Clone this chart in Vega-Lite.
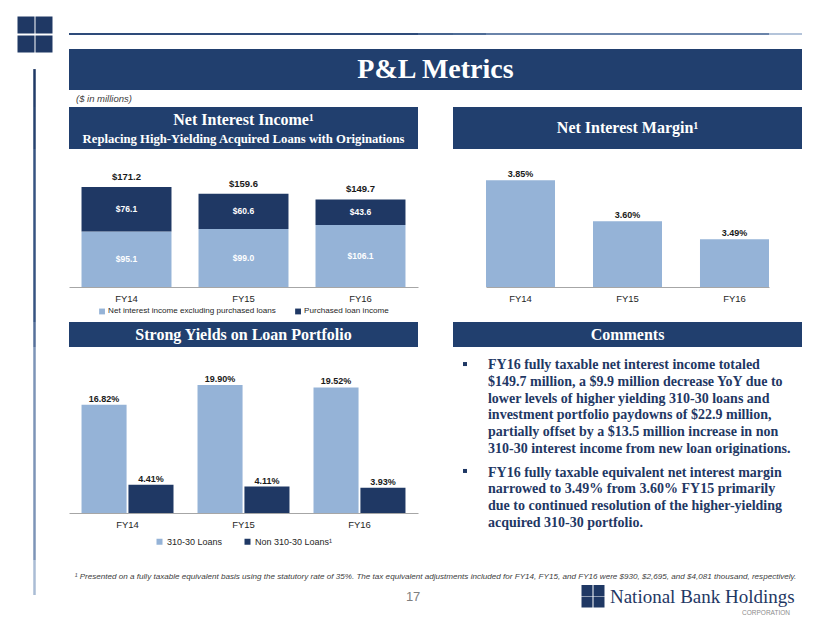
{
  "$schema": "https://vega.github.io/schema/vega-lite/v6.json",
  "padding": 0,
  "spacing": 0,
  "columns": 7,
  "align": "each",
  "bounds": "flush",
  "background": "white",
  "config": {
    "view": {"stroke": null},
    "axis": {"grid": false},
    "legend": {"layout": {"bottom": {"anchor": "middle"}}}
  },
  "resolve": {"scale": {"color": "independent"}, "legend": {"color": "independent"}},
  "datasets": {
    "one": [{}],
    "logo": [{"c": 0, "r": 0}, {"c": 1, "r": 0}, {"c": 0, "r": 1}, {"c": 1, "r": 1}],
    "nii": [
      {"year": "FY14", "component": "Net interest income excluding purchased loans", "value": 95.1},
      {"year": "FY14", "component": "Purchased loan income", "value": 76.1},
      {"year": "FY15", "component": "Net interest income excluding purchased loans", "value": 99.0},
      {"year": "FY15", "component": "Purchased loan income", "value": 60.6},
      {"year": "FY16", "component": "Net interest income excluding purchased loans", "value": 106.1},
      {"year": "FY16", "component": "Purchased loan income", "value": 43.6}
    ],
    "nim": [
      {"year": "FY14", "value": 0.0385},
      {"year": "FY15", "value": 0.036},
      {"year": "FY16", "value": 0.0349}
    ],
    "yields": [
      {"year": "FY14", "type": "310-30 Loans", "value": 0.1682},
      {"year": "FY14", "type": "Non 310-30 Loans¹", "value": 0.0441},
      {"year": "FY15", "type": "310-30 Loans", "value": 0.199},
      {"year": "FY15", "type": "Non 310-30 Loans¹", "value": 0.0411},
      {"year": "FY16", "type": "310-30 Loans", "value": 0.1952},
      {"year": "FY16", "type": "Non 310-30 Loans¹", "value": 0.0393}
    ]
  },
  "concat": [
    {"width": 69, "height": 49, "data": {"name": "logo"},
     "mark": {"type": "square", "size": 289, "color": "#1F3864", "opacity": 1},
     "encoding": {
       "x": {"field": "c", "type": "quantitative", "axis": null, "scale": {"domain": [-1.444, 2.389], "nice": false, "zero": false}},
       "y": {"field": "r", "type": "quantitative", "axis": null, "scale": {"domain": [-1.316, 1.263], "nice": false, "zero": false, "reverse": true}}}},
    {"width": 349, "height": 49, "data": {"name": "one"}, "mark": {"type": "rule", "color": "#2E4B7A", "strokeWidth": 2},
     "encoding": {"y": {"datum": 0.694, "type": "quantitative", "scale": {"domain": [0, 1], "reverse": true}, "axis": null}}},
    {"width": 35, "height": 49, "data": {"name": "one"}, "mark": {"type": "rule", "color": "#45638E", "strokeWidth": 2},
     "encoding": {"y": {"datum": 0.694, "type": "quantitative", "scale": {"domain": [0, 1], "reverse": true}, "axis": null}}},
    {"width": 33, "height": 49, "data": {"name": "one"}, "mark": {"type": "rule", "color": "#4E6C96", "strokeWidth": 2},
     "encoding": {"y": {"datum": 0.694, "type": "quantitative", "scale": {"domain": [0, 1], "reverse": true}, "axis": null}}},
    {"width": 283, "height": 49, "data": {"name": "one"}, "mark": {"type": "rule", "color": "#6A84AA", "strokeWidth": 2},
     "encoding": {"y": {"datum": 0.694, "type": "quantitative", "scale": {"domain": [0, 1], "reverse": true}, "axis": null}}},
    {"width": 33, "height": 49, "data": {"name": "one"}, "mark": {"type": "rule", "color": "#B4C4DA", "strokeWidth": 2},
     "encoding": {"y": {"datum": 0.694, "type": "quantitative", "scale": {"domain": [0, 1], "reverse": true}, "axis": null}}},
    {"width": 28, "height": 49, "data": {"name": "one"}, "mark": {"type": "text", "text": ""}, "encoding": {}},

    {"width": 69, "height": 41, "data": {"name": "one"}, "mark": {"type": "rule", "color": "#1F3864", "strokeWidth": 2.5},
     "encoding": {
       "x": {"datum": 0.5, "type": "quantitative", "scale": {"domain": [0, 1]}, "axis": null},
       "y": {"datum": 0.49, "type": "quantitative", "scale": {"domain": [0, 1], "reverse": true}, "axis": null},
       "y2": {"datum": 1}}},
    {"width": 349, "height": 41, "view": {"fill": "#213F6E", "stroke": null}, "data": {"name": "one"}, "mark": {"type": "text", "text": ""}, "encoding": {}},
    {"width": 35, "height": 41, "view": {"fill": "#213F6E", "stroke": null}, "data": {"name": "one"}, "mark": {"type": "text", "text": ""}, "encoding": {}},
    {"width": 33, "height": 41, "view": {"fill": "#213F6E", "stroke": null}, "data": {"name": "one"}, "mark": {"type": "text", "text": ""}, "encoding": {}},
    {"width": 283, "height": 41, "view": {"fill": "#213F6E", "stroke": null}, "data": {"name": "one"}, "mark": {"type": "text", "text": ""}, "encoding": {}},
    {"width": 33, "height": 41, "view": {"fill": "#213F6E", "stroke": null}, "data": {"name": "one"},
     "mark": {"type": "text", "text": "P&L Metrics", "font": "Liberation Serif", "fontWeight": "bold", "fontSize": 28, "color": "white", "align": "center", "baseline": "middle"},
     "encoding": {"x": {"datum": -10.106, "type": "quantitative", "scale": {"domain": [0, 1]}, "axis": null}}},
    {"width": 28, "height": 41, "data": {"name": "one"}, "mark": {"type": "text", "text": ""}, "encoding": {}},

    {"width": 69, "height": 17, "data": {"name": "one"}, "mark": {"type": "rule", "color": "#223D6A", "strokeWidth": 2.5},
     "encoding": {"x": {"datum": 0.5, "type": "quantitative", "scale": {"domain": [0, 1]}, "axis": null}}},
    {"width": 349, "height": 17, "data": {"name": "one"},
     "mark": {"type": "text", "text": "($ in millions)", "font": "Liberation Sans", "fontStyle": "italic", "fontSize": 9.5, "color": "#404040", "align": "left", "baseline": "middle"},
     "encoding": {"x": {"datum": 0.02, "type": "quantitative", "scale": {"domain": [0, 1]}, "axis": null}}},
    {"width": 35, "height": 17, "data": {"name": "one"}, "mark": {"type": "text", "text": ""}, "encoding": {}},
    {"width": 33, "height": 17, "data": {"name": "one"}, "mark": {"type": "text", "text": ""}, "encoding": {}},
    {"width": 283, "height": 17, "data": {"name": "one"}, "mark": {"type": "text", "text": ""}, "encoding": {}},
    {"width": 33, "height": 17, "data": {"name": "one"}, "mark": {"type": "text", "text": ""}, "encoding": {}},
    {"width": 28, "height": 17, "data": {"name": "one"}, "mark": {"type": "text", "text": ""}, "encoding": {}},

    {"width": 69, "height": 42, "data": {"name": "one"}, "mark": {"type": "rule", "color": "#26426F", "strokeWidth": 2.5},
     "encoding": {"x": {"datum": 0.5, "type": "quantitative", "scale": {"domain": [0, 1]}, "axis": null}}},
    {"width": 349, "height": 42, "view": {"fill": "#213F6E", "stroke": null}, "data": {"name": "one"},
     "layer": [
       {"mark": {"type": "text", "text": "Net Interest Income¹", "font": "Liberation Serif", "fontWeight": "bold", "fontSize": 16, "color": "white", "align": "center", "baseline": "middle"},
        "encoding": {"y": {"datum": 0.31, "type": "quantitative", "scale": {"domain": [0, 1], "reverse": true}, "axis": null}}},
       {"mark": {"type": "text", "text": "Replacing High-Yielding Acquired Loans with Originations", "font": "Liberation Serif", "fontWeight": "bold", "fontSize": 12.7, "color": "white", "align": "center", "baseline": "middle"},
        "encoding": {"y": {"datum": 0.76, "type": "quantitative", "scale": {"domain": [0, 1], "reverse": true}, "axis": null}}}
     ]},
    {"width": 35, "height": 42, "data": {"name": "one"}, "mark": {"type": "text", "text": ""}, "encoding": {}},
    {"width": 33, "height": 42, "view": {"fill": "#213F6E", "stroke": null}, "data": {"name": "one"}, "mark": {"type": "text", "text": ""}, "encoding": {}},
    {"width": 283, "height": 42, "view": {"fill": "#213F6E", "stroke": null}, "data": {"name": "one"},
     "mark": {"type": "text", "text": "Net Interest Margin¹", "font": "Liberation Serif", "fontWeight": "bold", "fontSize": 16, "color": "white", "align": "center", "baseline": "middle"},
     "encoding": {}},
    {"width": 33, "height": 42, "view": {"fill": "#213F6E", "stroke": null}, "data": {"name": "one"}, "mark": {"type": "text", "text": ""}, "encoding": {}},
    {"width": 28, "height": 42, "data": {"name": "one"}, "mark": {"type": "text", "text": ""}, "encoding": {}},

    {"width": 69, "height": 173, "data": {"name": "one"}, "mark": {"type": "rule", "color": "#365381", "strokeWidth": 2.5},
     "encoding": {"x": {"datum": 0.5, "type": "quantitative", "scale": {"domain": [0, 1]}, "axis": null}}},
    {"width": 349, "height": 138, "data": {"name": "nii"},
     "encoding": {
       "x": {"field": "year", "type": "nominal", "title": null,
             "scale": {"paddingInner": 0.231, "paddingOuter": 0.107},
             "axis": {"labelAngle": 0, "ticks": false, "tickSize": 0, "labelPadding": 6, "labelFontSize": 9.5, "labelColor": "#262626", "labelFont": "Liberation Sans", "domainColor": "#A6A6A6", "domainWidth": 1}}
     },
     "layer": [
       {"mark": {"type": "bar"},
        "encoding": {
          "y": {"field": "value", "type": "quantitative", "stack": "zero", "axis": null, "scale": {"domain": [0, 236], "nice": false}},
          "order": {"field": "component", "type": "ordinal", "sort": "ascending"},
          "color": {"field": "component", "type": "nominal",
                    "scale": {"domain": ["Net interest income excluding purchased loans", "Purchased loan income"], "range": ["#95B3D7", "#1F3864"]},
                    "legend": {"orient": "bottom", "direction": "horizontal", "title": null, "symbolType": "square", "symbolSize": 34, "symbolStrokeWidth": 0, "labelFontSize": 8.1, "labelFont": "Liberation Sans", "labelColor": "#262626", "labelLimit": 0, "columnPadding": 18, "labelOffset": 2, "offset": 4, "padding": 0}}
        }},
       {"mark": {"type": "text", "color": "white", "fontWeight": "bold", "fontSize": 8.5, "font": "Liberation Sans", "baseline": "middle"},
        "encoding": {
          "y": {"field": "value", "type": "quantitative", "stack": "zero", "bandPosition": 0.5},
          "detail": {"field": "component", "type": "nominal"},
          "order": {"field": "component", "type": "ordinal", "sort": "ascending"},
          "text": {"field": "value", "type": "quantitative", "format": "$.1f"}
        }},
       {"mark": {"type": "text", "baseline": "bottom", "dy": -5, "fontWeight": "bold", "fontSize": 9.5, "font": "Liberation Sans", "color": "#1A1A1A"},
        "encoding": {
          "y": {"aggregate": "sum", "field": "value", "type": "quantitative"},
          "text": {"aggregate": "sum", "field": "value", "type": "quantitative", "format": "$.1f"}
        }}
     ]},
    {"width": 35, "height": 173, "data": {"name": "one"}, "mark": {"type": "text", "text": ""}, "encoding": {}},
    {"width": 33, "height": 173, "data": {"name": "one"}, "mark": {"type": "text", "text": ""}, "encoding": {}},
    {"width": 283, "height": 138, "data": {"name": "nim"},
     "encoding": {
       "x": {"field": "year", "type": "nominal", "title": null,
             "scale": {"paddingInner": 0.355, "paddingOuter": 0},
             "axis": {"labelAngle": 0, "ticks": false, "tickSize": 0, "labelPadding": 6, "labelFontSize": 9.5, "labelColor": "#262626", "labelFont": "Liberation Sans", "domainColor": "#A6A6A6", "domainWidth": 1}},
       "y": {"field": "value", "type": "quantitative", "axis": null, "scale": {"domain": [0.032, 0.0404], "nice": false, "zero": false}}
     },
     "layer": [
       {"mark": {"type": "bar", "color": "#95B3D7", "clip": true}},
       {"mark": {"type": "text", "baseline": "bottom", "dy": -1, "fontWeight": "bold", "fontSize": 9, "font": "Liberation Sans", "color": "#1A1A1A"},
        "encoding": {"text": {"field": "value", "type": "quantitative", "format": ".2%"}}}
     ]},
    {"width": 33, "height": 173, "data": {"name": "one"}, "mark": {"type": "text", "text": ""}, "encoding": {}},
    {"width": 28, "height": 173, "data": {"name": "one"}, "mark": {"type": "text", "text": ""}, "encoding": {}},

    {"width": 69, "height": 25, "data": {"name": "one"}, "mark": {"type": "rule", "color": "#56709A", "strokeWidth": 2.5},
     "encoding": {"x": {"datum": 0.5, "type": "quantitative", "scale": {"domain": [0, 1]}, "axis": null}}},
    {"width": 349, "height": 25, "view": {"fill": "#213F6E", "stroke": null}, "data": {"name": "one"},
     "mark": {"type": "text", "text": "Strong Yields on Loan Portfolio", "font": "Liberation Serif", "fontWeight": "bold", "fontSize": 16, "color": "white", "align": "center", "baseline": "middle"},
     "encoding": {}},
    {"width": 35, "height": 25, "data": {"name": "one"}, "mark": {"type": "text", "text": ""}, "encoding": {}},
    {"width": 33, "height": 25, "view": {"fill": "#213F6E", "stroke": null}, "data": {"name": "one"}, "mark": {"type": "text", "text": ""}, "encoding": {}},
    {"width": 283, "height": 25, "view": {"fill": "#213F6E", "stroke": null}, "data": {"name": "one"},
     "mark": {"type": "text", "text": "Comments", "font": "Liberation Serif", "fontWeight": "bold", "fontSize": 16, "color": "white", "align": "center", "baseline": "middle"},
     "encoding": {}},
    {"width": 33, "height": 25, "view": {"fill": "#213F6E", "stroke": null}, "data": {"name": "one"}, "mark": {"type": "text", "text": ""}, "encoding": {}},
    {"width": 28, "height": 25, "data": {"name": "one"}, "mark": {"type": "text", "text": ""}, "encoding": {}},

    {"width": 69, "height": 213, "data": {"name": "one"}, "mark": {"type": "rule", "color": "#7D94B7", "strokeWidth": 2.5},
     "encoding": {"x": {"datum": 0.5, "type": "quantitative", "scale": {"domain": [0, 1]}, "axis": null}}},
    {"width": 349, "height": 166, "data": {"name": "yields"},
     "encoding": {
       "x": {"field": "year", "type": "nominal", "title": null,
             "scale": {"paddingInner": 0.207, "paddingOuter": 0.108},
             "axis": {"labelAngle": 0, "ticks": false, "tickSize": 0, "labelPadding": 6, "labelFontSize": 9.5, "labelColor": "#262626", "labelFont": "Liberation Sans", "domainColor": "#A6A6A6", "domainWidth": 1}},
       "xOffset": {"field": "type", "type": "nominal", "scale": {"paddingInner": 0.04}},
       "y": {"field": "value", "type": "quantitative", "stack": null, "axis": null, "scale": {"domain": [0, 0.258], "nice": false}}
     },
     "layer": [
       {"mark": {"type": "bar"},
        "encoding": {
          "color": {"field": "type", "type": "nominal",
                    "scale": {"domain": ["310-30 Loans", "Non 310-30 Loans¹"], "range": ["#95B3D7", "#1F3864"]},
                    "legend": {"orient": "bottom", "direction": "horizontal", "title": null, "symbolType": "square", "symbolSize": 36, "symbolStrokeWidth": 0, "labelFontSize": 9, "labelFont": "Liberation Sans", "labelColor": "#262626", "labelLimit": 0, "columnPadding": 20, "labelOffset": 3, "offset": 8, "padding": 0}}
        }},
       {"mark": {"type": "text", "baseline": "bottom", "dy": -1, "fontWeight": "bold", "fontSize": 9, "font": "Liberation Sans", "color": "#1A1A1A"},
        "encoding": {"text": {"field": "value", "type": "quantitative", "format": ".2%"}}}
     ]},
    {"width": 35, "height": 213, "data": {"name": "one"}, "mark": {"type": "text", "text": ""}, "encoding": {}},
    {"width": 33, "height": 213, "data": {"name": "one"},
     "layer": [
       {"mark": {"type": "square", "size": 16, "color": "#1F3864", "opacity": 1},
        "encoding": {
          "x": {"datum": 0.364, "type": "quantitative", "scale": {"domain": [0, 1]}, "axis": null},
          "y": {"datum": 0.08, "type": "quantitative", "scale": {"domain": [0, 1], "reverse": true}, "axis": null}}},
       {"mark": {"type": "square", "size": 16, "color": "#1F3864", "opacity": 1},
        "encoding": {
          "x": {"datum": 0.364, "type": "quantitative", "scale": {"domain": [0, 1]}, "axis": null},
          "y": {"datum": 0.582, "type": "quantitative", "scale": {"domain": [0, 1], "reverse": true}, "axis": null}}}
     ]},
    {"width": 283, "height": 213, "data": {"name": "one"},
     "layer": [
       {"mark": {"type": "text", "align": "left", "baseline": "alphabetic", "font": "Liberation Serif", "fontWeight": "bold", "fontSize": 14, "lineHeight": 16.67, "color": "#1F3864",
                 "text": ["FY16 fully taxable net interest income totaled", "$149.7 million, a $9.9 million decrease YoY due to", "lower levels of higher yielding 310-30 loans and", "investment portfolio paydowns of $22.9 million,", "partially offset by a $13.5 million increase in non", "310-30 interest income from new loan originations."]},
        "encoding": {
          "x": {"datum": 0.007, "type": "quantitative", "scale": {"domain": [0, 1]}, "axis": null},
          "y": {"datum": 0.1056, "type": "quantitative", "scale": {"domain": [0, 1], "reverse": true}, "axis": null}}},
       {"mark": {"type": "text", "align": "left", "baseline": "alphabetic", "font": "Liberation Serif", "fontWeight": "bold", "fontSize": 14, "lineHeight": 16.67, "color": "#1F3864",
                 "text": ["FY16 fully taxable equivalent net interest margin", "narrowed to 3.49% from 3.60% FY15 primarily", "due to continued resolution of the higher-yielding", "acquired 310-30 portfolio."]},
        "encoding": {
          "x": {"datum": 0.007, "type": "quantitative", "scale": {"domain": [0, 1]}, "axis": null},
          "y": {"datum": 0.608, "type": "quantitative", "scale": {"domain": [0, 1], "reverse": true}, "axis": null}}}
     ]},
    {"width": 33, "height": 213, "data": {"name": "one"}, "mark": {"type": "text", "text": ""}, "encoding": {}},
    {"width": 28, "height": 213, "data": {"name": "one"}, "mark": {"type": "text", "text": ""}, "encoding": {}},

    {"width": 69, "height": 63, "data": {"name": "one"}, "mark": {"type": "rule", "color": "#AABCD5", "strokeWidth": 2.5},
     "encoding": {
       "x": {"datum": 0.5, "type": "quantitative", "scale": {"domain": [0, 1]}, "axis": null},
       "y": {"datum": 0, "type": "quantitative", "scale": {"domain": [0, 1], "reverse": true}, "axis": null},
       "y2": {"datum": 0.556}}},
    {"width": 349, "height": 63, "data": {"name": "one"},
     "mark": {"type": "text", "text": "17", "font": "Liberation Sans", "fontSize": 13, "color": "#7F7F7F", "align": "center", "baseline": "middle"},
     "encoding": {
       "x": {"datum": 0.986, "type": "quantitative", "scale": {"domain": [0, 1]}, "axis": null},
       "y": {"datum": 0.587, "type": "quantitative", "scale": {"domain": [0, 1], "reverse": true}, "axis": null}}},
    {"width": 35, "height": 63, "data": {"name": "one"},
     "mark": {"type": "text", "text": "¹ Presented on a fully taxable equivalent basis using the statutory rate of 35%. The tax equivalent adjustments included for FY14, FY15, and FY16 were $930, $2,695, and $4,081 thousand, respectively.", "font": "Liberation Sans", "fontStyle": "italic", "fontSize": 8.1, "color": "#404040", "align": "center", "baseline": "middle"},
     "encoding": {
       "y": {"datum": 0.27, "type": "quantitative", "scale": {"domain": [0, 1], "reverse": true}, "axis": null}}},
    {"width": 33, "height": 63, "data": {"name": "one"}, "mark": {"type": "text", "text": ""}, "encoding": {}},
    {"width": 283, "height": 63,
     "layer": [
       {"data": {"name": "logo"},
        "mark": {"type": "square", "size": 121, "color": "#1F3864", "opacity": 1},
        "encoding": {
          "x": {"field": "c", "type": "quantitative", "axis": null, "scale": {"domain": [-8.417, 15.167], "nice": false, "zero": false}},
          "y": {"field": "r", "type": "quantitative", "axis": null, "scale": {"domain": [-2.652, 2.826], "nice": false, "zero": false, "reverse": true}}}},
       {"data": {"name": "one"},
        "mark": {"type": "text", "text": "National Bank Holdings", "font": "Liberation Serif", "fontSize": 19, "color": "#1F3864", "align": "left", "baseline": "alphabetic"},
        "encoding": {
          "x": {"datum": 0.438, "type": "quantitative", "scale": {"domain": [0, 1]}, "axis": null},
          "y": {"datum": 0.69, "type": "quantitative", "scale": {"domain": [0, 1], "reverse": true}, "axis": null}}}
     ],
     "resolve": {"scale": {"x": "independent", "y": "independent"}}},
    {"width": 33, "height": 63, "data": {"name": "one"},
     "mark": {"type": "text", "text": "CORPORATION", "font": "Liberation Sans", "fontSize": 6.5, "color": "#8C8C8C", "align": "right", "baseline": "middle"},
     "encoding": {
       "x": {"datum": 0.636, "type": "quantitative", "scale": {"domain": [0, 1]}, "axis": null},
       "y": {"datum": 0.84, "type": "quantitative", "scale": {"domain": [0, 1], "reverse": true}, "axis": null}}},
    {"width": 28, "height": 63, "data": {"name": "one"}, "mark": {"type": "text", "text": ""}, "encoding": {}}
  ]
}
